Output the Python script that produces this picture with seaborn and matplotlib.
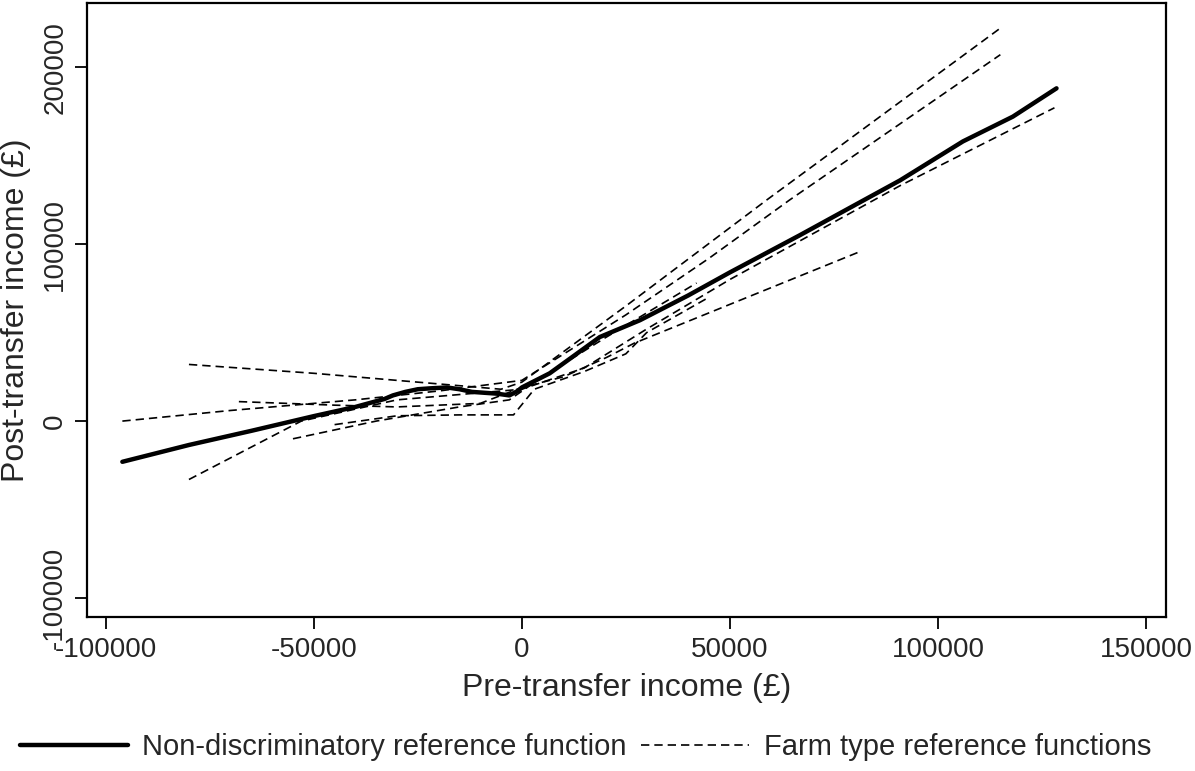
import pandas as pd
import matplotlib
matplotlib.use("Agg")
import matplotlib.pyplot as plt
from matplotlib.lines import Line2D
import seaborn as sns

sns.set_style("white")
plt.rcParams['font.family'] = ['Liberation Sans', 'DejaVu Sans']

# Non-discriminatory reference function (solid)
ref_x = [-96000, -80000, -65000, -50000, -40000, -33000, -31000, -28000, -25000, -22000,
         -18000, -15000, -12000, -9000, -6000, -3000, -1000, 0, 6700, 12000,
         18750, 28400, 40000, 50000, 66800, 80000, 90900, 106000, 118000, 128500]
ref_y = [-23000, -13500, -5500, 2800, 8000, 12500, 14500, 16500, 18000, 18500,
         19000, 18000, 16500, 16000, 15500, 14500, 17000, 19000, 27000, 36000,
         47500, 57000, 71000, 84000, 105000, 122000, 136000, 158000, 172000, 188000]

# Farm type reference functions (dashed)
farm1_x = [-80000, -50000, -20000, -5000, 0, 25000, 58900, 115000]
farm1_y = [32000, 27000, 21000, 18000, 22000, 65000, 125000, 222000]
farm2_x = [-96000, -70000, -40000, -20000, 0, 25000, 45000, 64400, 115000]
farm2_y = [0, 6000, 12000, 17000, 23000, 60000, 92000, 125000, 207000]
farm3_x = [-80000, -53000, -30000, -10000, 0, 15000, 30000, 50000, 90900, 128000]
farm3_y = [-33000, 0, 12000, 16000, 18000, 30000, 52000, 80000, 133000, 177000]
farm4_x = [-68000, -45000, -30000, -10000, 0, 10000, 20400, 27000, 81000]
farm4_y = [11000, 9000, 8000, 10000, 19000, 25000, 36000, 44000, 95500]
farm5_x = [-55000, -35000, -15000, -3000, 5000, 20000, 42000]
farm5_y = [-10000, 0, 8000, 12000, 25000, 47000, 78000]
farm6_x = [-45000, -30000, -15000, -2000, 3000, 15000, 25000, 30000, 45000]
farm6_y = [-2000, 3000, 3500, 3500, 18000, 28000, 38000, 50000, 70000]

farms = [(farm1_x, farm1_y), (farm2_x, farm2_y), (farm3_x, farm3_y),
         (farm4_x, farm4_y), (farm5_x, farm5_y), (farm6_x, farm6_y)]

fig = plt.figure(figsize=(11.95, 7.71), dpi=100)
ax = fig.add_axes([0.0728, 0.1997, 0.9029, 0.7964])

for fx, fy in farms:
    sns.lineplot(x=fx, y=fy, ax=ax, color='black', linewidth=1.2,
                 sort=False, estimator=None)
    ax.lines[-1].set_dashes((5, 3))

sns.lineplot(x=ref_x, y=ref_y, ax=ax, color='black', linewidth=3.2,
             sort=False, estimator=None)

ax.set_xlim(-104500, 154800)
ax.set_ylim(-110700, 236200)
ax.set_xticks([-100000, -50000, 0, 50000, 100000, 150000])
ax.set_yticks([-100000, 0, 100000, 200000])
ax.set_xticklabels(['-100000', '-50000', '0', '50000', '100000', '150000'])
ax.set_yticklabels(['-100000', '0', '100000', '200000'], rotation=90, va='center')
ax.tick_params(axis='both', labelsize=20, length=8.5, width=1.3, direction='out',
               color='black', left=True, bottom=True)
ax.tick_params(axis='x', pad=6)
ax.tick_params(axis='y', pad=5)
for s in ax.spines.values():
    s.set_linewidth(1.6)
    s.set_color('black')

ax.set_xlabel('Pre-transfer income (£)', fontsize=23, labelpad=7)
ax.set_ylabel('Post-transfer income (£)', fontsize=23, labelpad=8)

legend_1 = Line2D([], [], color='black', linewidth=3.2, label='Non-discriminatory reference function')
legend_2 = Line2D([], [], color='black', linewidth=1.2, dashes=(5, 3), label='Farm type reference functions')
fig.legend(handles=[legend_1, legend_2], loc='center', bbox_to_anchor=(0.49, 0.031),
           ncol=2, frameon=False, fontsize=21, handlelength=3.7, handletextpad=0.5,
           columnspacing=0.5)

fig.savefig('out.png', dpi=100)
